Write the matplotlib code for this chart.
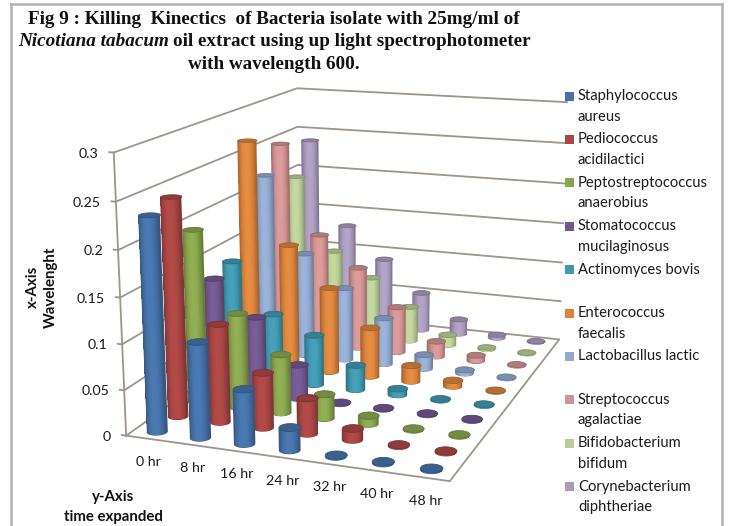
import numpy as np
import matplotlib
matplotlib.use('Agg')
import matplotlib.pyplot as plt
from matplotlib.colors import to_rgb
from matplotlib.lines import Line2D
from matplotlib.patches import Rectangle
from mpl_toolkits.mplot3d import proj3d
from mpl_toolkits.mplot3d.art3d import Poly3DCollection

W, H = 729, 526

hours = ['0 hr', '8 hr', '16 hr', '24 hr', '32 hr', '40 hr', '48 hr']
z_ticks = [0, 0.05, 0.1, 0.15, 0.2, 0.25, 0.3]
z_labels = ['0', '0.05', '0.1', '0.15', '0.2', '0.25', '0.3']

staph = [0.234, 0.105, 0.06, 0.025, 0.002, 0.002, 0.002]
pedio = [0.243, 0.11, 0.062, 0.04, 0.013, 0.002, 0.002]
pepto = [0.197, 0.108, 0.067, 0.028, 0.01, 0.002, 0.002]
stomato = [0.13, 0.09, 0.04, 0.002, 0.002, 0.002, 0.002]
actino = [0.138, 0.08, 0.06, 0.03, 0.008, 0.002, 0.002]
entero = [0.27, 0.15, 0.103, 0.06, 0.02, 0.008, 0.002]
lacto = [0.22, 0.128, 0.09, 0.058, 0.018, 0.005, 0.002]
strep = [0.25, 0.14, 0.103, 0.058, 0.02, 0.008, 0.002]
bifido = [0.2, 0.108, 0.078, 0.045, 0.014, 0.003, 0.002]
coryne = [0.238, 0.13, 0.09, 0.05, 0.02, 0.005, 0.002]
values = [staph, pedio, pepto, stomato, actino, entero, lacto, strep, bifido, coryne]

names = ['Staphylococcus\naureus', 'Pediococcus\nacidilactici', 'Peptostreptococcus\nanaerobius',
         'Stomatococcus\nmucilaginosus', 'Actinomyces bovis', 'Enterococcus\nfaecalis',
         'Lactobacillus lactic', 'Streptococcus\nagalactiae', 'Bifidobacterium\nbifidum',
         'Corynebacterium\ndiphtheriae']
colors = ['#4672A8', '#AA4644', '#89A54E', '#71588F', '#4198AF',
          '#DB843D', '#93A9CF', '#D19392', '#B9CD96', '#A99BBD']

grid_color = '#9b958c'
ELEV, AZIM, ROLL, FOCAL = 14.576, -69.975, 0.068, 0.4807
BOX = (1, 1.3526, 0.8515)
MT, MS = 0.505, 0.433
RT, RS = 0.22, 0.229
EDGE = 1.05


def cylinder(ax, t, s, h, color, order):
    base = np.array(to_rgb(color))
    cam = np.radians(AZIM)

    # smooth outline of the visible half, in the darkest tone
    arc = cam + np.linspace(-np.pi / 2 - 0.05, np.pi / 2 + 0.05, 41)
    ax_x = t + RT * np.cos(arc)
    ax_y = s + RS * np.sin(arc)
    outline = list(zip(ax_x, ax_y, np.zeros(41))) + list(zip(ax_x[::-1], ax_y[::-1], np.full(41, h)))
    shell = Poly3DCollection([outline], facecolors=[base * 0.76], edgecolors='none', zorder=order)
    ax.add_collection3d(shell, autolim=False)

    # inner strips carry the shading, the outline stays visible as a thin rim
    ang = cam + np.linspace(-EDGE, EDGE, 31)
    xs = t + RT * np.cos(ang)
    ys = s + RS * np.sin(ang)
    low = min(0.0012, h / 2)
    side, cols = [], []
    for i in range(30):
        side.append([(xs[i], ys[i], low), (xs[i + 1], ys[i + 1], low),
                     (xs[i + 1], ys[i + 1], h), (xs[i], ys[i], h)])
        d = (ang[i] + ang[i + 1]) / 2 - cam
        p = np.sin(d) / np.sin(EDGE)
        cols.append(np.clip(base * (0.76 + 0.3 * (1 - p ** 2)), 0, 1))
    body = Poly3DCollection(side, facecolors=cols, edgecolors='none', linewidths=0,
                            antialiaseds=False, zorder=order + 0.2)
    ax.add_collection3d(body, autolim=False)

    th = np.linspace(0, 2 * np.pi, 49)
    rim = list(zip(t + RT * np.cos(th), s + RS * np.sin(th), np.full(49, h)))
    top = Poly3DCollection([rim], facecolors=[base * 0.84], edgecolors=[base * 0.72],
                           linewidths=0.6, zorder=order + 0.5)
    ax.add_collection3d(top, autolim=False)


fig = plt.figure(figsize=(W / 100, H / 100), dpi=100)
ax = fig.add_axes([68.3 / W, -25.2 / H, 573.1 / W, 573.1 / H], projection='3d')
ax.computed_zorder = False
ax.set_xlim(-MT, 6 + MT, view_margin=0)
ax.set_ylim(-MS, 9 + MS, view_margin=0)
ax.set_zlim(0, 0.3, view_margin=0)
ax.set_box_aspect(BOX)
ax.view_init(elev=ELEV, azim=AZIM, roll=ROLL)
ax.set_proj_type('persp', focal_length=FOCAL)
ax.set_axis_off()
ax.patch.set_alpha(0)

x0, x1 = -MT, 6 + MT
y0, y1 = -MS, 9 + MS

# floor outline, side wall and back wall grid lines
ax.plot([x0, x1, x1, x0, x0], [y0, y0, y1, y1, y0], [0, 0, 0, 0, 0], color=grid_color, lw=1.3, zorder=1)
for z in z_ticks[1:]:
    ax.plot([x0, x0, x1], [y0, y1, y1], [z, z, z], color=grid_color, lw=1.3, zorder=1)
ax.plot([x0, x0], [y0, y0], [0, 0.3], color=grid_color, lw=1.3, zorder=1)
for z in z_ticks:
    ax.plot([x0 - 0.1, x0], [y0, y0], [z, z], color=grid_color, lw=1.3, zorder=1)

# back series first, later hours sit closer to the viewer
order = 2
for s in range(len(values) - 1, -1, -1):
    for t, h in enumerate(values[s]):
        cylinder(ax, t, s, h, colors[s], order)
        order += 1


def to_fig(x, y, z, dx=0, dy=0):
    # 3d point to figure fraction, with an offset in pixels
    xp, yp, _ = proj3d.proj_transform(x, y, z, ax.get_proj())
    px, py = ax.transData.transform((xp, yp))
    return (px + dx) / W, (py + dy) / H


font = 'Lato'
fig.canvas.draw()
for z, lab in zip(z_ticks, z_labels):
    fx, fy = to_fig(x0, y0, z, -15, -1)
    fig.text(fx, fy, lab, ha='right', va='center', fontsize=10.3, family=font, color='#1a1a1a')
for t, lab in enumerate(hours):
    fx, fy = to_fig(t, y0, 0, 1, -23)
    fig.text(fx, fy, lab, ha='center', va='center', fontsize=10.3, family=font, color='#1a1a1a')

# chart frame, open at the bottom
for xa, ya, xb, yb in [(11, 526, 11, 3.5), (11, 3.5, 722, 3.5), (722, 3.5, 722, 526)]:
    fig.add_artist(Line2D([xa / W, xb / W], [1 - ya / H, 1 - yb / H], color='#b3b3b3', lw=1.8))

title_font = 'Liberation Serif'
title_size = 13.8
fig.text(274 / W, 1 - 19 / H, 'Fig 9 : Killing  Kinectics  of Bacteria isolate with 25mg/ml of',
         ha='center', va='center', fontsize=title_size, family=title_font, weight='bold', color='#111111')
first = fig.text(18 / W, 1 - 42 / H, 'Nicotiana tabacum', ha='left', va='center', fontsize=title_size,
                 family=title_font, weight='bold', style='italic', color='#111111')
box = first.get_window_extent(fig.canvas.get_renderer())
fig.text((box.x1 + 4) / W, 1 - 42 / H, 'oil extract using up light spectrophotometer', ha='left', va='center',
         fontsize=title_size, family=title_font, weight='bold', color='#111111')
fig.text(274 / W, 1 - 64.5 / H, 'with wavelength 600.', ha='center', va='center', fontsize=title_size,
         family=title_font, weight='bold', color='#111111')

# axis captions
fig.text(42 / W, 1 - 287 / H, 'x-Axis\nWavelenght', rotation=90, ha='center', va='center', fontsize=10.8,
         family=font, weight='bold', linespacing=1.4, color='#111111')
fig.text(113 / W, 1 - 507 / H, 'y-Axis\ntime expanded', ha='center', va='center', fontsize=10.8,
         family=font, weight='bold', linespacing=1.5, color='#111111')

# legend entries sit on a fixed step
for i, (name, col) in enumerate(zip(names, colors)):
    yc = 96 + i * 43.4
    fig.add_artist(Rectangle((565 / W, 1 - (yc + 4.5) / H), 9 / W, 9 / H, transform=fig.transFigure,
                             facecolor=col, edgecolor='none'))
    fig.text(578 / W, 1 - (yc - 7) / H, name, ha='left', va='top', fontsize=10.6, family=font,
             linespacing=1.6, color='#1a1a1a')

fig.savefig('out.png', dpi=100)
